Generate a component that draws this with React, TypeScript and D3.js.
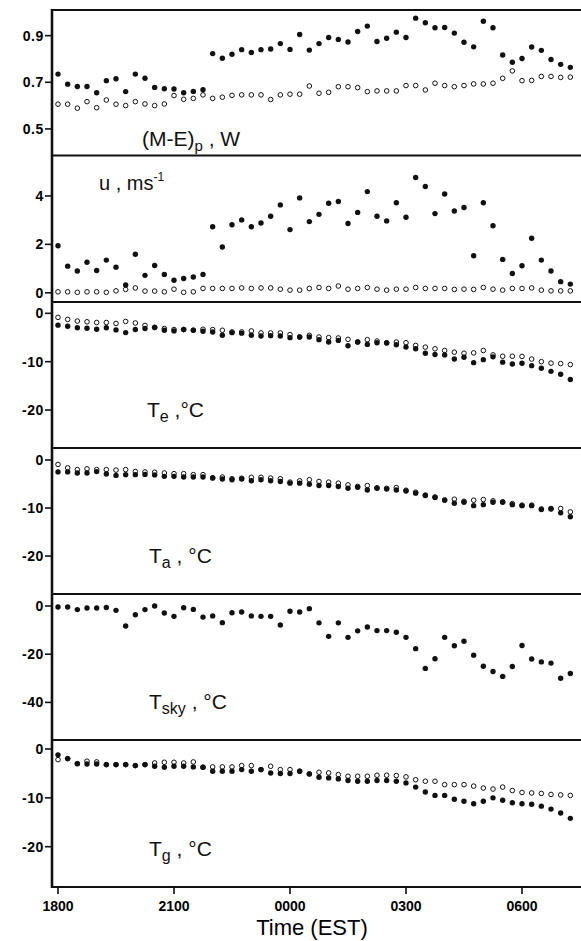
import React from 'react';
import * as d3 from 'd3';

const W = 581;
const H = 941;

// readings every 15 min, hours after 1800 EST
const sampleHours = d3.range(0, 13.5, 0.25);
const xTickHours = [0, 3, 6, 9, 12];
const xTickLabels = ['1800', '2100', '0000', '0300', '0600'];

// (M-E)p, W
const meFilled = [0.735, 0.692, 0.682, 0.682, 0.655, 0.707, 0.715, 0.66, 0.735, 0.717, 0.678, 0.672, 0.671, 0.655, 0.661, 0.668, 0.823, 0.803, 0.82, 0.84, 0.828, 0.84, 0.843, 0.866, 0.841, 0.905, 0.838, 0.866, 0.892, 0.884, 0.873, 0.918, 0.941, 0.875, 0.889, 0.915, 0.892, 0.975, 0.955, 0.934, 0.935, 0.911, 0.872, 0.852, 0.962, 0.934, 0.817, 0.786, 0.802, 0.851, 0.837, 0.798, 0.777, 0.764];
const meOpen = [0.606, 0.606, 0.589, 0.617, 0.591, 0.624, 0.606, 0.6, 0.617, 0.607, 0.6, 0.607, 0.643, 0.627, 0.631, 0.646, 0.631, 0.636, 0.644, 0.646, 0.646, 0.646, 0.626, 0.646, 0.649, 0.649, 0.684, 0.653, 0.657, 0.681, 0.681, 0.677, 0.66, 0.663, 0.663, 0.663, 0.686, 0.686, 0.667, 0.696, 0.686, 0.681, 0.686, 0.693, 0.693, 0.696, 0.717, 0.749, 0.707, 0.708, 0.725, 0.725, 0.721, 0.722];

// u, m/s
const uFilled = [1.94, 1.1, 0.9, 1.26, 0.92, 1.35, 1.06, 0.32, 1.59, 0.72, 1.13, 0.76, 0.52, 0.59, 0.65, 0.76, 2.73, 1.89, 2.81, 3.01, 2.73, 2.88, 3.16, 3.63, 2.61, 3.92, 2.94, 3.24, 3.7, 3.77, 2.86, 3.32, 4.18, 3.16, 2.97, 3.72, 3.12, 4.76, 4.39, 3.27, 4.08, 3.38, 3.52, 1.53, 3.72, 2.77, 1.38, 0.8, 1.12, 2.25, 1.35, 0.9, 0.46, 0.36];
const uOpen = [0.04, 0.04, 0.02, 0.04, 0.04, 0.02, 0.08, 0.14, 0.2, 0.07, 0.07, 0.04, 0.15, 0.02, 0.04, 0.18, 0.18, 0.18, 0.18, 0.2, 0.18, 0.2, 0.2, 0.15, 0.11, 0.11, 0.18, 0.22, 0.18, 0.28, 0.15, 0.18, 0.22, 0.15, 0.11, 0.15, 0.15, 0.22, 0.18, 0.18, 0.18, 0.14, 0.15, 0.14, 0.22, 0.15, 0.11, 0.18, 0.18, 0.2, 0.11, 0.08, 0.08, 0.08];

// Te, degC
const teFilled = [-2.45, -2.66, -3.0, -3.08, -3.29, -3.0, -3.43, -3.99, -3.36, -3.15, -2.94, -3.5, -3.64, -3.36, -3.5, -3.7, -3.85, -4.55, -4.0, -4.1, -4.55, -4.69, -4.62, -4.69, -5.03, -4.9, -4.9, -5.45, -5.94, -5.6, -6.71, -5.94, -6.43, -6.08, -6.15, -6.5, -6.99, -7.34, -8.25, -8.53, -8.6, -9.44, -9.09, -10.2, -9.58, -9.0, -10.1, -10.48, -10.34, -10.82, -11.36, -12.0, -12.6, -13.7];
const teOpen = [-0.84, -1.26, -1.6, -1.75, -1.9, -1.9, -2.1, -1.68, -2.0, -2.5, -2.9, -3.15, -3.36, -3.36, -3.5, -3.29, -3.36, -3.5, -3.85, -3.85, -3.64, -4.06, -4.06, -4.06, -4.4, -4.9, -4.55, -4.9, -5.03, -5.1, -5.38, -5.94, -5.45, -5.73, -6.08, -5.94, -6.08, -6.64, -6.99, -7.34, -7.69, -8.04, -8.25, -8.18, -7.69, -8.6, -8.88, -8.88, -8.91, -9.46, -10.0, -10.3, -10.4, -10.6];

// Ta, degC
const taFilled = [-2.48, -2.48, -2.7, -2.7, -2.41, -2.9, -3.2, -3.05, -3.05, -3.0, -3.1, -3.4, -3.4, -3.55, -3.55, -3.55, -3.76, -3.97, -4.1, -3.97, -4.33, -4.1, -4.33, -4.47, -4.82, -4.82, -5.04, -5.32, -5.32, -5.53, -5.89, -5.67, -6.24, -5.89, -6.03, -6.24, -6.45, -6.9, -7.4, -7.8, -8.4, -9.0, -8.8, -9.5, -9.3, -8.8, -8.8, -9.3, -9.5, -9.5, -10.3, -10.2, -11.0, -11.8];
const taOpen = [-0.92, -1.63, -2.0, -1.84, -2.0, -2.0, -2.1, -2.0, -2.4, -2.48, -2.55, -2.7, -2.84, -2.84, -3.05, -3.05, -3.7, -3.55, -3.9, -3.8, -3.6, -3.6, -3.76, -3.9, -4.6, -4.33, -4.11, -4.47, -4.61, -4.82, -5.18, -5.5, -5.32, -5.8, -5.9, -5.74, -6.3, -6.7, -7.3, -7.7, -8.3, -8.16, -8.6, -8.37, -8.23, -8.5, -8.7, -9.08, -9.4, -9.4, -10.2, -10.1, -10.1, -10.8];

// Tsky, degC
const tskyFilled = [-0.4, -0.4, -1.5, -0.8, -0.8, -0.6, -1.8, -8.3, -3.6, -1.5, 0, -2.9, -4.3, -0.7, -1.4, -4.6, -4.1, -6.9, -2.8, -2.5, -4.1, -4.3, -4.3, -7.9, -2.2, -2.5, -1.1, -7.0, -12.6, -7.0, -13.0, -10.3, -8.7, -10.2, -10.2, -10.9, -13.0, -17.7, -25.9, -21.9, -13.0, -16.5, -14.6, -20.4, -25.0, -27.2, -29.2, -25.1, -16.4, -22.0, -23.2, -23.7, -30.0, -28.0];

// Tg, degC
const tgFilled = [-1.2, -1.97, -3.0, -3.06, -3.06, -3.2, -3.2, -3.2, -3.4, -3.2, -3.54, -3.74, -3.54, -3.54, -3.67, -3.74, -4.56, -4.56, -4.56, -4.22, -4.56, -4.22, -4.9, -5.03, -5.03, -4.56, -5.1, -5.78, -5.92, -6.12, -6.46, -6.6, -6.6, -6.46, -6.46, -6.6, -6.94, -7.8, -8.8, -9.5, -9.5, -10.3, -10.7, -11.2, -10.7, -10.0, -10.5, -11.0, -11.2, -11.3, -11.7, -12.3, -13.1, -14.2];
const tgOpen = [-2.18, -1.97, -3.0, -2.5, -2.65, -3.2, -3.2, -3.2, -3.4, -3.2, -2.86, -2.72, -2.72, -2.86, -2.65, -3.74, -3.67, -3.67, -3.67, -3.4, -3.4, -4.22, -3.54, -4.22, -4.22, -4.56, -5.1, -4.76, -4.9, -5.24, -5.58, -5.58, -5.58, -5.37, -5.37, -5.44, -5.71, -6.3, -6.6, -6.6, -7.3, -7.3, -7.3, -7.6, -8.0, -8.2, -7.8, -8.5, -8.9, -9.0, -9.1, -9.3, -9.4, -9.5];

const axisX = 52;
const x = d3.scaleLinear().domain([0, 12]).range([58, 522]);

type Panel = {
  top: number;
  bottom: number;
  domain: [number, number];
  ticks: number[];
  fmt: (v: number) => string;
  filled: number[];
  open?: number[];
  label: React.ReactNode;
};

const fmt1 = (v: number) => v.toFixed(1);
const fmt0 = (v: number) => String(v);

const labelFont = "'Liberation Sans', Arial, Helvetica, sans-serif";

const panels: Panel[] = [
  {
    top: 10, bottom: 155.5, domain: [0.386, 1.01], ticks: [0.5, 0.7, 0.9], fmt: fmt1,
    filled: meFilled, open: meOpen,
    label: (
      <text x={142} y={146} fontSize={21}>
        (M-E)<tspan fontSize={15} dy={5}>p</tspan><tspan dy={-5}> , W</tspan>
      </text>
    ),
  },
  {
    top: 155.5, bottom: 302, domain: [-0.38, 5.67], ticks: [0, 2, 4], fmt: fmt0,
    filled: uFilled, open: uOpen,
    label: (
      <text x={99} y={190} fontSize={20}>
        u ,  ms<tspan fontSize={12} dy={-9}>-1</tspan>
      </text>
    ),
  },
  {
    top: 302, bottom: 448, domain: [-27.85, 2.34], ticks: [-20, -10, 0], fmt: fmt0,
    filled: teFilled, open: teOpen,
    label: (
      <text x={147} y={417} fontSize={21}>
        T<tspan fontSize={16} dy={5}>e</tspan><tspan dy={-5}> ,°C</tspan>
      </text>
    ),
  },
  {
    top: 448, bottom: 594, domain: [-27.9, 2.5], ticks: [-20, -10, 0], fmt: fmt0,
    filled: taFilled, open: taOpen,
    label: (
      <text x={149} y={563} fontSize={21}>
        T<tspan fontSize={16} dy={5}>a</tspan><tspan dy={-5}> ,  °C</tspan>
      </text>
    ),
  },
  {
    top: 594, bottom: 740, domain: [-55.6, 4.98], ticks: [-40, -20, 0], fmt: fmt0,
    filled: tskyFilled,
    label: (
      <text x={149} y={709} fontSize={21}>
        T<tspan fontSize={16} dy={5}>sky</tspan><tspan dy={-5}> ,  °C</tspan>
      </text>
    ),
  },
  {
    top: 740, bottom: 887, domain: [-28.25, 1.84], ticks: [-20, -10, 0], fmt: fmt0,
    filled: tgFilled, open: tgOpen,
    label: (
      <text x={149} y={856} fontSize={21}>
        T<tspan fontSize={16} dy={5}>g</tspan><tspan dy={-5}> ,  °C</tspan>
      </text>
    ),
  },
];

function PanelView({ p }: { p: Panel }) {
  const y = d3.scaleLinear().domain(p.domain).range([p.bottom, p.top]);
  return (
    <g>
      {p.ticks.map((t) => (
        <g key={t}>
          <line x1={axisX - 7} x2={axisX} y1={y(t)} y2={y(t)} stroke="#111" strokeWidth={1.6} />
          <text
            x={axisX - 8}
            y={y(t)}
            dy="0.36em"
            textAnchor="end"
            fontSize={14}
            fontWeight="bold"
            letterSpacing={0.6}
            fontFamily={labelFont}
          >
            {p.fmt(t)}
          </text>
        </g>
      ))}
      {p.open &&
        p.open.map((v, i) => (
          <circle key={'o' + i} cx={x(sampleHours[i])} cy={y(v)} r={2.3} fill="#fff" stroke="#111" strokeWidth={1} />
        ))}
      {p.filled.map((v, i) => (
        <circle key={'f' + i} cx={x(sampleHours[i])} cy={y(v)} r={2.7} fill="#111" />
      ))}
      <g fontFamily={labelFont} fill="#111">{p.label}</g>
    </g>
  );
}

export default function App() {
  const bottom = panels[panels.length - 1].bottom;
  return (
    <svg
      width={W}
      height={H}
      style={{ position: 'absolute', left: 0, top: 0, background: '#fff' }}
    >
      <rect width={W} height={H} fill="#fff" />
      {panels.map((p, i) => (
        <PanelView key={i} p={p} />
      ))}
      {/* frame: panel separators and left axis */}
      {panels.map((p, i) => (
        <line key={'sep' + i} x1={axisX} x2={W} y1={p.top} y2={p.top} stroke="#111" strokeWidth={2.2} />
      ))}
      <line x1={axisX} x2={W} y1={bottom} y2={bottom} stroke="#111" strokeWidth={2.2} />
      <line x1={axisX} x2={axisX} y1={panels[0].top - 1} y2={bottom + 1} stroke="#111" strokeWidth={2.6} />
      {xTickHours.map((h, i) => (
        <g key={h}>
          <line x1={x(h)} x2={x(h)} y1={bottom} y2={bottom + 7} stroke="#111" strokeWidth={1.6} />
          <text
            x={x(h)}
            y={bottom + 24}
            textAnchor="middle"
            fontSize={14}
            fontWeight="bold"
            fontFamily={labelFont}
          >
            {xTickLabels[i]}
          </text>
        </g>
      ))}
      <text x={312} y={935} textAnchor="middle" fontSize={22} fontFamily={labelFont}>
        Time (EST)
      </text>
    </svg>
  );
}
